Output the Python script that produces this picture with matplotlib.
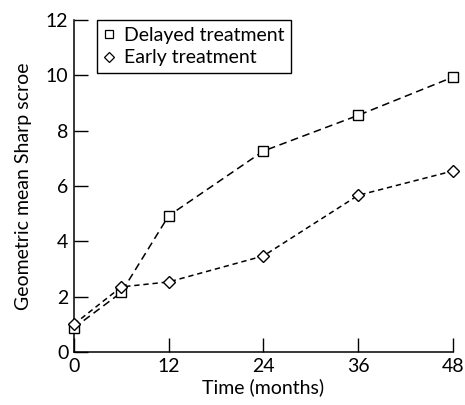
import matplotlib.pyplot as plt
from matplotlib.lines import Line2D

plt.rcParams['font.family'] = ['Lato', 'DejaVu Sans']

# datos
meses = [0, 6, 12, 24, 36, 48]
tardio = [0.87, 2.15, 4.92, 7.26, 8.55, 9.93]
temprano = [1.0, 2.35, 2.53, 3.47, 5.66, 6.54]
xticks = [0, 12, 24, 36, 48]
yticks = [0, 2, 4, 6, 8, 10, 12]

fig = plt.figure(figsize=(4.65, 4.05), dpi=100)
ax = fig.add_axes([0.159, 0.131, 0.815, 0.82])

ax.plot(meses, tardio, color='black', lw=1.1, linestyle=(0, (5, 3)),
        marker='s', ms=6.5, mfc='white', mec='black', mew=1, clip_on=False, zorder=3)
ax.plot(meses, temprano, color='black', lw=1.1, linestyle=(0, (3.5, 2.5)),
        marker='D', ms=6.5, mfc='white', mec='black', mew=1, clip_on=False, zorder=4)

ax.set_xlim(0, 48)
ax.set_ylim(0, 12)
ax.set_xticks(xticks)
ax.set_yticks(yticks)
ax.tick_params(direction='in', length=10, width=1, labelsize=14, pad=4)
for s in ['top', 'right']:
    ax.spines[s].set_visible(False)
for s in ['left', 'bottom']:
    ax.spines[s].set_linewidth(1.1)

ax.set_xlabel('Time (months)', fontsize=14, labelpad=3)
ax.set_ylabel('Geometric mean Sharp scroe', fontsize=14, labelpad=10)

# leyenda solo con marcadores
h1 = Line2D([], [], ls='none', marker='s', ms=5.5, mfc='white', mec='black', mew=0.9)
h2 = Line2D([], [], ls='none', marker='D', ms=5, mfc='white', mec='black', mew=0.9)
leg = ax.legend([h1, h2], ['Delayed treatment', 'Early treatment'],
                loc='upper left', bbox_to_anchor=(0.06, 1.0), borderaxespad=0,
                fontsize=14, handlelength=0.6, handletextpad=0.45,
                labelspacing=0.3, borderpad=0.35, fancybox=False, framealpha=1)
leg.get_frame().set_edgecolor('black')
leg.get_frame().set_linewidth(1)

plt.savefig('out.png', dpi=100)
plt.close()
